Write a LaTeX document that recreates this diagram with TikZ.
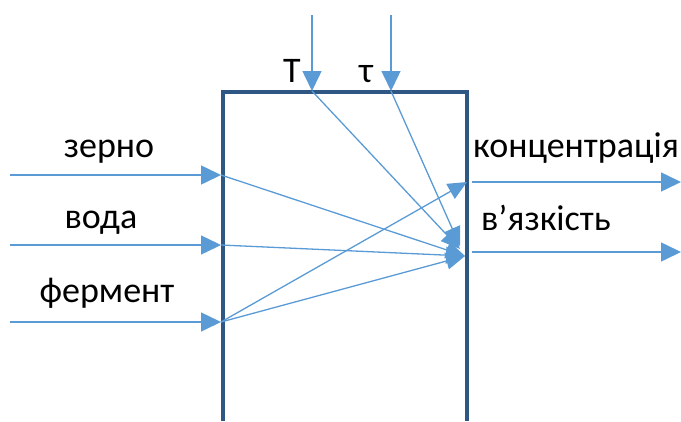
\documentclass[tikz,border=0pt]{standalone}
\usepackage{fontspec}
\setmainfont{Carlito}
\usetikzlibrary{arrows.meta}
\definecolor{boxblue}{HTML}{2E5883}
\definecolor{arrblue}{HTML}{5B9BD5}
\begin{document}
\begin{tikzpicture}[x=1pt,y=-1pt,
  flow/.style={draw=arrblue,line width=1.5pt,-{Triangle[length=20pt,width=19pt]}},
  inner/.style={draw=arrblue,line width=1.3pt,-{Triangle[length=19pt,width=17pt]}},
  lbl/.style={font=\fontsize{36}{40}\selectfont,anchor=base,inner sep=0pt}]
\useasboundingbox (0,0) rectangle (681,421);
% box (open at bottom)
\coordinate (bl) at (223,421);
\coordinate (tl) at (223,92);
\coordinate (tr) at (467,92);
\coordinate (br) at (467,421);
\draw[boxblue,line width=3.5pt] (bl) -- (tl) -- (tr) -- (br);
% input points
\coordinate (z0) at (10,175);  \coordinate (z1) at (221,175);
\coordinate (v0) at (10,245);  \coordinate (v1) at (221,245);
\coordinate (f0) at (10,322);  \coordinate (f1) at (221,322);
\coordinate (t0) at (312,15);  \coordinate (t1) at (312,91);
\coordinate (s0) at (391,15);  \coordinate (s1) at (391,91);
\coordinate (k0) at (472,182); \coordinate (k1) at (681,182);
\coordinate (w0) at (472,252); \coordinate (w1) at (681,252);
\coordinate (c)  at (465,256);
\coordinate (cT) at (460,249);
\coordinate (cS) at (460,246);
\coordinate (kin) at (467,182);
% outer arrows
\draw[flow] (z0) -- (z1);
\draw[flow] (v0) -- (v1);
\draw[flow] (f0) -- (f1);
\draw[flow] (t0) -- (t1);
\draw[flow] (s0) -- (s1);
\draw[flow] (k0) -- (k1);
\draw[flow] (w0) -- (w1);
% inner arrows
\draw[inner] (z1) -- (c);
\draw[inner] (v1) -- (c);
\draw[inner] (f1) -- (c);
\draw[inner] (t1) -- (cT);
\draw[inner] (s1) -- (cS);
\draw[inner] (f1) -- (kin);
% labels
\node[lbl] (lz) at (109,157) {зерно};
\node[lbl] (lv) at (101,228) {вода};
\node[lbl] (lf) at (107,302) {фермент};
\node[lbl] (lt) at (292,82) {T};
\node[lbl] (ls) at (366,82) {τ};
\node[lbl] (lk) at (576,157) {концентрація};
\node[lbl] (lw) at (546,230) {в’язкість};
\end{tikzpicture}
\end{document}
